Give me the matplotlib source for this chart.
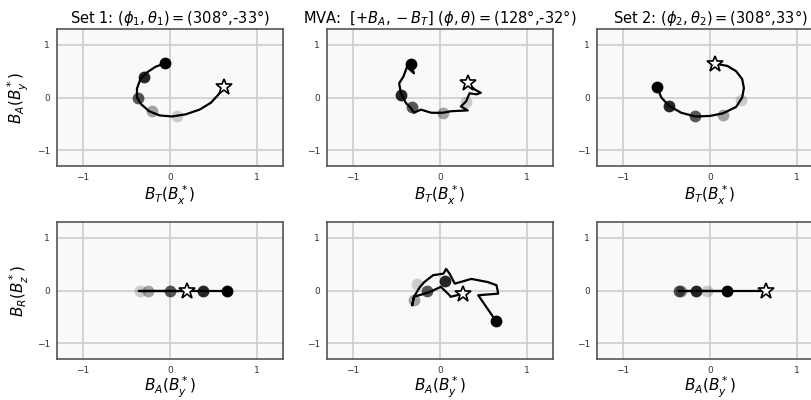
import matplotlib
matplotlib.use("Agg")
import matplotlib.pyplot as plt

# ---------------- data ----------------
# Set 1 trajectory (B_T, B_A), start = star, end = black dot
set1_BT = [0.62, 0.56, 0.47, 0.34, 0.18, 0.02, -0.12, -0.24, -0.33, -0.38, -0.38, -0.34, -0.27, -0.17, -0.06]
set1_BA = [0.20, 0.06, -0.10, -0.23, -0.32, -0.36, -0.34, -0.26, -0.13, 0.00, 0.17, 0.35, 0.47, 0.58, 0.65]
set1_BR = [0.0] * 15
set1_dot_BT = [0.08, -0.21, -0.37, -0.30, -0.06]
set1_dot_BA = [-0.35, -0.25, 0.00, 0.38, 0.65]
set1_dot_BR = [0.0, 0.0, 0.0, 0.0, 0.0]

# Set 2 trajectory
set2_BT = [0.06, 0.20, 0.30, 0.37, 0.39, 0.37, 0.30, 0.15, 0.00, -0.17, -0.33, -0.47, -0.56, -0.61]
set2_BA = [0.64, 0.60, 0.50, 0.35, 0.18, 0.00, -0.18, -0.30, -0.35, -0.36, -0.29, -0.16, 0.00, 0.20]
set2_BR = [0.0] * 14
set2_dot_BT = [0.36, 0.15, -0.17, -0.47, -0.61]
set2_dot_BA = [-0.04, -0.33, -0.36, -0.16, 0.20]
set2_dot_BR = [0.0, 0.0, 0.0, 0.0, 0.0]

# MVA trajectory, top panel (B_T, B_A)
mva_top_BT = [0.32, 0.40, 0.47, 0.42, 0.34, 0.30, 0.24, 0.32, 0.13, 0.03, -0.10, -0.22, -0.30,
              -0.335, -0.39, -0.45, -0.47, -0.42, -0.38, -0.30, -0.335]
mva_top_BA = [0.27, 0.15, 0.09, 0.06, 0.08, -0.075, -0.17, -0.245, -0.26, -0.29, -0.29, -0.23, -0.29,
              -0.20, -0.11, 0.08, 0.27, 0.40, 0.58, 0.46, 0.63]
mva_top_dot_BT = [0.30, 0.03, -0.32, -0.45, -0.335]
mva_top_dot_BA = [-0.08, -0.30, -0.18, 0.05, 0.63]

# MVA trajectory, bottom panel (B_A, B_R)
mva_bot_BA = [0.27, 0.12, 0.11, 0.01, -0.12, -0.30, -0.32, -0.30, -0.23, -0.18, -0.08, 0.04, 0.07,
              0.11, 0.17, 0.36, 0.55, 0.65, 0.67, 0.44, 0.64]
mva_bot_BR = [-0.06, -0.12, -0.09, 0.07, -0.03, -0.12, -0.28, -0.12, 0.07, 0.16, 0.29, 0.32, 0.41,
              0.32, 0.13, 0.22, 0.16, 0.10, -0.06, -0.09, -0.57]
mva_bot_dot_BA = [-0.26, -0.30, -0.15, 0.06, 0.64]
mva_bot_dot_BR = [0.13, -0.18, 0.00, 0.18, -0.57]

dot_alpha = [0.18, 0.35, 0.65, 0.85, 1.0]

titles = [r"Set 1: $(\phi_1,\theta_1) = $(308°,-33°)",
          r"MVA:  $[+B_A, -B_T]$ $(\phi,\theta) = $(128°,-32°)",
          r"Set 2: $(\phi_2,\theta_2) = $(308°,33°)"]
xlabels_top = r"$B_T(B_x^*)$"
xlabels_bot = r"$B_A(B_y^*)$"
ylabel_top = r"$B_A(B_y^*)$"
ylabel_bot = r"$B_R(B_z^*)$"
ticks = [-1, 0, 1]
tick_labels = ["\u22121", "0", "1"]

# ---------------- figure ----------------
W, H = 811, 400
fig = plt.figure(figsize=(W / 100, H / 100), dpi=100)
fig.patch.set_facecolor("white")

lefts = [57, 327, 597]
aw = 226
tops = [29, 222]
ah = 137

top_data = [(set1_BT, set1_BA, set1_dot_BT, set1_dot_BA),
            (mva_top_BT, mva_top_BA, mva_top_dot_BT, mva_top_dot_BA),
            (set2_BT, set2_BA, set2_dot_BT, set2_dot_BA)]
bot_data = [(set1_BA, set1_BR, set1_dot_BA, set1_dot_BR),
            (mva_bot_BA, mva_bot_BR, mva_bot_dot_BA, mva_bot_dot_BR),
            (set2_BA, set2_BR, set2_dot_BA, set2_dot_BR)]


def style(ax):
    ax.set_facecolor("#f9f9f9")
    ax.set_xlim(-1.3, 1.3)
    ax.set_ylim(-1.3, 1.3)
    ax.set_xticks(ticks)
    ax.set_yticks(ticks)
    ax.set_xticklabels(tick_labels)
    ax.set_yticklabels(tick_labels)
    ax.tick_params(length=0, labelsize=6.5, colors="#333333", pad=5)
    ax.grid(True, color="#cdcdcd", lw=1.2)
    ax.set_axisbelow(True)
    for s in ax.spines.values():
        s.set_color("#555555")
        s.set_linewidth(1.2)


for row, data in enumerate([top_data, bot_data]):
    for col in range(3):
        x0 = lefts[col] / W
        y0 = 1 - (tops[row] + ah) / H
        ax = fig.add_axes([x0, y0, aw / W, ah / H])
        style(ax)
        xs, ys, dx, dy = data[col]
        ax.plot(xs, ys, color="black", lw=1.6, zorder=3, solid_joinstyle="round")
        for k in range(len(dx)):
            ax.plot(dx[k], dy[k], "o", color="black", alpha=dot_alpha[k], ms=8.5,
                    mec="none", zorder=4)
        ax.plot(xs[0], ys[0], marker="*", ms=12, mfc="white", mec="black", mew=1.2,
                ls="none", zorder=5)
        if row == 0:
            ax.set_title(titles[col], fontsize=10.5, pad=4)
            ax.set_xlabel(xlabels_top, fontsize=11, labelpad=1)
            if col == 0:
                ax.set_ylabel(ylabel_top, fontsize=11, labelpad=4)
        else:
            ax.set_xlabel(xlabels_bot, fontsize=11, labelpad=0)
            if col == 0:
                ax.set_ylabel(ylabel_bot, fontsize=11, labelpad=4)

fig.savefig("out.png", dpi=100)
